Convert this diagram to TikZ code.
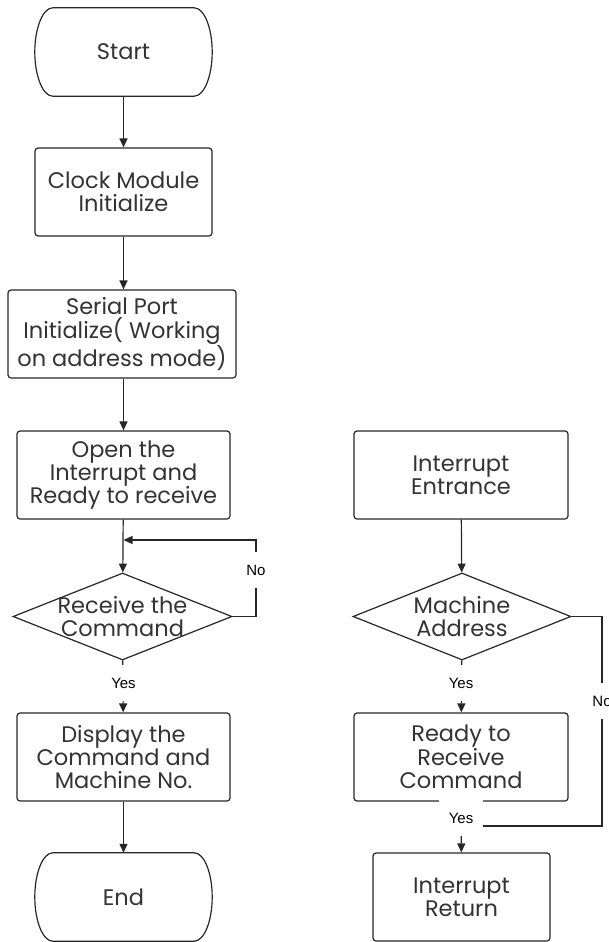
\documentclass[tikz,border=0pt]{standalone}
\usepackage{fontspec}
\setmainfont{Poppins}
\newfontfamily\labfont{Liberation Sans}
\usetikzlibrary{arrows.meta,shapes.geometric}
\newcommand\termoutline[1]{%
  \draw[line] ([xshift=18pt]#1.north west) -- ([xshift=-18pt]#1.north east)
    .. controls ([xshift=-8pt]#1.north east) and ([yshift=24pt]#1.east) .. (#1.east)
    .. controls ([yshift=-24pt]#1.east) and ([xshift=-8pt]#1.south east) .. ([xshift=-18pt]#1.south east)
    -- ([xshift=18pt]#1.south west)
    .. controls ([xshift=8pt]#1.south west) and ([yshift=-24pt]#1.west) .. (#1.west)
    .. controls ([yshift=24pt]#1.west) and ([xshift=8pt]#1.north west) .. ([xshift=18pt]#1.north west) -- cycle;}
\begin{document}
\begin{tikzpicture}[x=1pt,y=-1pt,
  line/.style={draw=black!85, line width=1.2pt},
  txt/.style={text=black!80, font=\fontsize{22.5}{23.3}\selectfont, align=center},
  term/.style={txt, minimum width=177pt, minimum height=88pt, inner sep=0pt},
  procbox/.style={txt, line, rounded corners=3pt, minimum height=88pt, inner sep=0pt},
  decshape/.style={diamond, line, inner sep=0pt},
  lab/.style={font=\labfont\fontsize{15}{17}\selectfont, fill=white, inner sep=0pt, minimum width=44pt, minimum height=36pt},
  arr/.style={line, -{Triangle[length=9pt,width=8pt]}}]
\useasboundingbox (0,0) rectangle (609,942);
% left column
\node[term] (start) at (123.5,52) {Start};
\termoutline{start}
\node[procbox, minimum width=177pt] (clock) at (123.5,192) {Clock Module\\Initialize};
\node[procbox, minimum width=228pt] (serial) at (122,334) {Serial Port\\Initialize( Working\\on address mode)};
\node[procbox, minimum width=213pt] (open) at (123.5,475) {Open the\\Interrupt and\\Ready to receive};
\node[decshape, minimum width=219pt, minimum height=87pt] (dec1) at (122.5,616.5) {};
\node[txt] (dec1t) at (122.5,616.5) {Receive the\\Command};
\node[procbox, minimum width=213pt] (disp) at (123.5,757) {Display the\\Command and\\Machine No.};
\node[term] (end) at (123.5,897) {End};
\termoutline{end}
% right column
\node[procbox, minimum width=214pt] (ientr) at (461,475) {Interrupt\\Entrance};
\node[decshape, minimum width=218pt, minimum height=87pt] (dec2) at (462,616.5) {};
\node[txt] (dec2t) at (462,616.5) {Machine\\Address};
\node[procbox, minimum width=214pt] (ready) at (461,757) {Ready to\\Receive\\Command};
\node[procbox, minimum width=177pt] (ret) at (461.5,897) {Interrupt\\Return};
% connectors
\draw[arr] (start) -- (clock);
\draw[arr] (clock) -- (clock |- serial.north);
\draw[arr] (clock |- serial.south) -- (open);
\draw[arr] (open) -- (dec1);
\coordinate (c1) at (256,540);
\draw[arr] (dec1.east) -| (c1) -- (open.south |- c1);
\draw[arr] (dec1) -- (disp);
\draw[arr] (disp) -- (end);
\draw[arr] (ientr) -- (dec2);
\draw[arr] (dec2) -- (ready);
\coordinate (c2) at (602,826);
\draw[line] (dec2.east) -| (c2) -- (ready.south |- c2);
\draw[arr] (ready) -- (ret);
% labels
\node[lab] (no1) at (256,570) {No};
\node[lab] (yes1) at (123.5,683) {Yes};
\node[lab] (yes2) at (461,683) {Yes};
\node[lab] (no2) at (602,701) {No};
\node[lab] (yes3) at (461,818) {Yes};
\end{tikzpicture}
\end{document}
